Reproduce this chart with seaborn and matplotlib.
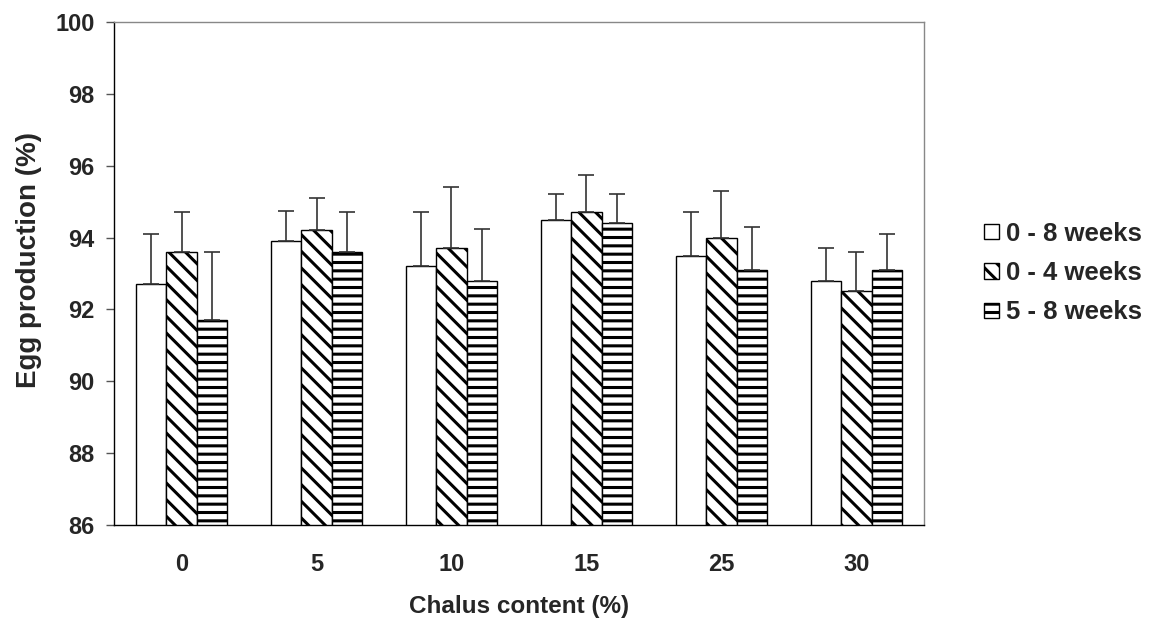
import numpy as np
import pandas as pd
import matplotlib
matplotlib.use("Agg")
import matplotlib.pyplot as plt
import seaborn as sns
from matplotlib.patches import Patch

# ---- data ----
categories = ["0", "5", "10", "15", "25", "30"]
series_names = ["0 - 8 weeks", "0 - 4 weeks", "5 - 8 weeks"]
vals_0_8 = [92.7, 93.9, 93.2, 94.5, 93.5, 92.8]
vals_0_4 = [93.6, 94.2, 93.7, 94.7, 94.0, 92.5]
vals_5_8 = [91.7, 93.6, 92.8, 94.4, 93.1, 93.1]
err_0_8 = [1.4, 0.85, 1.5, 0.7, 1.2, 0.9]
err_0_4 = [1.1, 0.9, 1.7, 1.05, 1.3, 1.1]
err_5_8 = [1.9, 1.1, 1.45, 0.8, 1.2, 1.0]
yticks = [86, 88, 90, 92, 94, 96, 98, 100]

sns.set_theme(style="white")
plt.rcParams["font.family"] = ["Liberation Sans", "DejaVu Sans"]
plt.rcParams["hatch.linewidth"] = 2.2

vals = [vals_0_8, vals_0_4, vals_5_8]
errs = [err_0_8, err_0_4, err_5_8]
df = pd.DataFrame({
    "content": categories * 3,
    "period": np.repeat(series_names, len(categories)),
    "value": np.concatenate(vals),
    "err": np.concatenate(errs),
})

fig = plt.figure(figsize=(11.54, 6.24), dpi=100)
ax = fig.add_axes([114 / 1154, 1 - 525 / 624, (924 - 114) / 1154, (525 - 22) / 624])

sns.barplot(data=df, x="content", y="value", hue="period", order=categories,
            hue_order=series_names, palette=["white"] * 3, width=0.68, gap=0,
            edgecolor="black", linewidth=1.0, errorbar=None, legend=False,
            saturation=1, ax=ax, zorder=2)

hatches = ["", "\\\\", "--"]
n = len(categories)
bars = [p for p in ax.patches][: 3 * n]
for k, name in enumerate(series_names):
    for i in range(n):
        b = bars[k * n + i]
        b.set_hatch(hatches[k])
        b.set_edgecolor("black")
        x = b.get_x() + b.get_width() / 2
        top = b.get_y() + b.get_height()
        e = df[(df.period == name)].err.values[i]
        ax.errorbar([x], [top], yerr=[[0], [e]], fmt="none", ecolor="#333333",
                    elinewidth=1.2, capsize=5.5, capthick=1.2, zorder=3)

ax.set_ylim(86, 100)
ax.set_xlim(-0.5, n - 0.5)
ax.set_yticks(yticks)
ax.set_yticklabels([str(t) for t in yticks], fontsize=17, fontweight="bold")
ax.set_xticks(range(n))
ax.set_xticklabels(categories, fontsize=17, fontweight="bold")
ax.set_xticks(np.arange(-0.5, n, 1.0), minor=True)
ax.tick_params(axis="x", which="major", length=0, pad=20)
ax.tick_params(axis="x", which="minor", length=7, width=1, color="black", direction="out")
ax.tick_params(axis="y", length=6, width=1, color="#555555", direction="out", pad=8, left=True)

for s in ["left", "bottom"]:
    ax.spines[s].set_color("black")
    ax.spines[s].set_linewidth(1.0)
for s in ["top", "right"]:
    ax.spines[s].set_color("#888888")
    ax.spines[s].set_linewidth(1.0)

ax.set_xlabel("Chalus content (%)", fontsize=17.5, fontweight="bold", labelpad=14)
ax.set_ylabel("Egg production (%)", fontsize=20, fontweight="bold")
ax.yaxis.set_label_coords(-0.089, 0.527)

handles = [Patch(facecolor="white", edgecolor="black", hatch=h, linewidth=1.0) for h in hatches]
fig.legend(handles, series_names, loc="center left", bbox_to_anchor=(0.833, 0.5625),
           frameon=False, prop={"size": 18.5, "weight": "bold"}, handlelength=0.55,
           handleheight=0.55, handletextpad=0.3, labelspacing=0.6)

fig.savefig("out.png", dpi=100)
